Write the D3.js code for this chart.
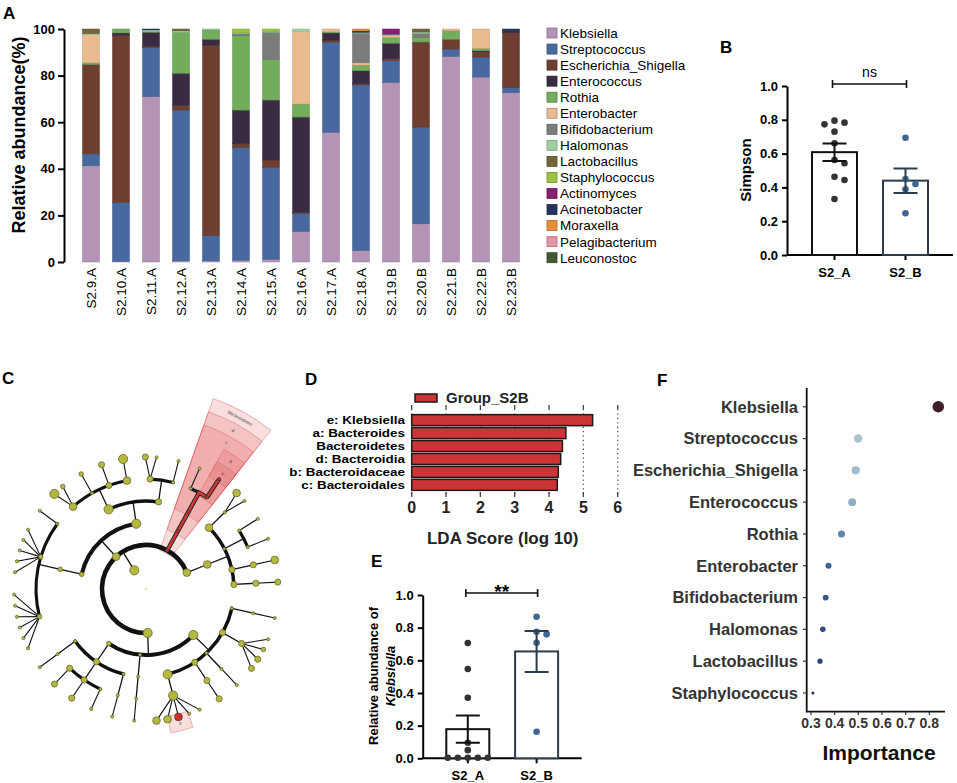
<!DOCTYPE html>
<html>
<head>
<meta charset="utf-8">
<script src="https://cdn.jsdelivr.net/npm/d3@7"></script>
<style>
body { margin: 0; background: #fff; }
text { font-family: "Liberation Sans", Arial, Helvetica, sans-serif; }
</style>
</head>
<body>
<svg id="fig" width="957" height="783"></svg>
<script>
// ---------- data ----------
// A: relative abundance (%) per sample, columns follow `genera`
const samples = ["S2.9.A","S2.10.A","S2.11.A","S2.12.A","S2.13.A","S2.14.A","S2.15.A","S2.16.A",
  "S2.17.A","S2.18.A","S2.19.B","S2.20.B","S2.21.B","S2.22.B","S2.23.B"];
const genera = ["Klebsiella","Streptococcus","Escherichia_Shigella","Enterococcus","Rothia","Enterobacter",
  "Bifidobacterium","Halomonas","Lactobacillus","Staphylococcus","Actinomyces","Acinetobacter",
  "Moraxella","Pelagibacterium","Leuconostoc"];
const genusColors = ["#b393b6","#48699f","#6e3f31","#3a2b44","#72ad5c","#e9bb8f","#7b7b7b","#a0d0a0",
  "#74653a","#9cc244","#87216f","#25345f","#e48f3b","#e295a4","#44592f"];
const abundance = [
  [41.3, 5.1,38.4, 0.0, 0.7,12.1, 0.0,0.4,2.0,0.0,0.0,0.0,0.0,0,0],
  [ 0.3,25.3,71.7, 1.0, 1.7, 0.0, 0.0,0.0,0.0,0.0,0.0,0.0,0.0,0,0],
  [71.0,21.1, 0.5, 6.0, 0.3, 0.0, 0.0,0.7,0.0,0.0,0.0,0.4,0.0,0,0],
  [ 0.5,64.7, 2.1,13.7,17.6, 0.0, 0.0,0.6,0.8,0.0,0.0,0.0,0.0,0,0],
  [ 0.5,10.8,81.8, 2.5, 4.0, 0.0, 0.0,0.4,0.0,0.0,0.0,0.0,0.0,0,0],
  [ 0.8,48.3, 1.7,14.4,31.9, 0.0, 0.8,0.4,0.0,1.7,0.0,0.0,0.0,0,0],
  [ 1.2,39.4, 3.2,25.7,17.5, 0.0,11.6,0.4,0.0,1.0,0.0,0.0,0.0,0,0],
  [13.2, 7.7, 0.4,40.9, 5.6,31.0, 0.0,1.2,0.0,0.0,0.0,0.0,0.0,0,0],
  [55.7,38.7, 0.9, 3.0, 0.5, 1.2, 0.0,0.0,0.0,0.0,0.0,0.0,0.0,0,0],
  [ 4.9,71.1, 0.5, 5.6, 2.4, 1.0,12.7,0.4,0.0,0.0,0.0,0.6,0.8,0,0],
  [77.1, 9.3, 0.9, 6.6, 2.5, 0.8, 0.0,0.5,0.0,0.0,2.3,0.0,0.0,0,0],
  [16.4,41.5,36.5, 0.0, 2.0, 0.0, 1.7,0.6,1.3,0.0,0.0,0.0,0.0,0,0],
  [88.3, 3.1, 4.2, 0.0, 3.7, 0.7, 0.0,0.0,0.0,0.0,0.0,0.0,0.0,0,0],
  [79.4, 8.6, 2.3, 0.4, 1.0, 8.3, 0.0,0.0,0.0,0.0,0.0,0.0,0.0,0,0],
  [72.7, 2.1,23.6, 1.0, 0.0, 0.0, 0.0,0.0,0.0,0.0,0.0,0.6,0.0,0,0]
];
const pctTicks = [0,20,40,60,80,100];

// B: Simpson index
const groups = ["S2_A","S2_B"];
const simpsonA = [0.783,0.795,0.773,0.730,0.661,0.562,0.543,0.444,0.463,0.331];
const simpsonB = [0.694,0.420,0.450,0.389,0.247];
const unitTicks = [0,0.2,0.4,0.6,0.8,1.0];

// C: LEfSe cladogram (name, log-abundance level, children)
function T(name, level, ...kids) { return kids.length ? {name, level, children: kids} : {name, level}; }
const taxTree =
T("root",0,
 T("Bacteria",5,
  T("Proteobacteria",5,
   T("Gammaproteobacteria",5,
    T("o1",1, T("f1",1, T("g1",1))),
    T("o2",3, T("f2",3, T("g2",1), T("g3",2), T("g4",3), T("g5",3))),
    T("o3",1, T("f3",1, T("g6",1))),
    T("o4",3, T("f4",3, T("g7",3))),
    T("Enterobacterales",5, T("Enterobacteriaceae",5,
      T("g8",1), T("g9",1), T("Klebsiella",4), T("Escherichia_Shigella",4), T("Enterobacter",4)))),
   T("c2",1, T("o5",1, T("f5",1, T("g10",1)))),
   T("c3",2,
    T("o6",1, T("f6",1, T("g11",1))),
    T("o7",3, T("f7",1, T("g12",1)), T("f8",3, T("g13",3)), T("f9",3, T("g14",3))),
    T("o8",1, T("f10",1, T("g15",1))))),
  T("Firmicutes",4,
   T("c4",2, T("o9",2,
    T("f11",2, T("g16",1), T("g17",1), T("g18",1), T("g19",1), T("g20",1), T("g21",1)),
    T("f12",2, T("g22",1), T("g23",1), T("g24",1), T("g25",1), T("g26",1)),
    T("f13",1, T("g27",1)))),
   T("Bacilli",5,
    T("o10",5, T("f14",4, T("g28",5), T("g29",2)), T("f15",1, T("g30",2)),
      T("f16",3, T("g31",3)), T("f17",4, T("g32",5))),
    T("o11",3, T("f18",3, T("g33",3), T("g34",1)), T("f19",1, T("g35",1))))),
  T("Bacteroidetes",1, T("Bacteroidia",1, T("Bacteroidales",1,
    T("f20",1, T("g36",1)), T("Bacteroidaceae",1, T("Bacteroides",1))))),
  T("Actinobacteria",4, T("Actinobacteria_c",4,
    T("o12",4, T("f21",1, T("g37",4), T("g38",1))),
    T("o13",1, T("f22",1, T("g39",1)), T("f23",1, T("g40",1))),
    T("o14",3, T("f24",3, T("g41",4))),
    T("o15",3, T("f25",3, T("g42",3)))))
 )
);
const enrichedTaxa = ["Bacteroidetes","Bacteroidia","Bacteroidales","Bacteroidaceae","Bacteroides","Klebsiella"];
const cladeLabels = ["Bacteroidetes","d","c","b","a","e"];

// D: LDA scores
const ldaLabels = ["e: Klebsiella","a: Bacteroides","Bacteroidetes","d: Bacteroidia","b: Bacteroidaceae","c: Bacteroidales"];
const ldaScores = [5.27,4.49,4.39,4.34,4.27,4.24];
const ldaTicks = [0,1,2,3,4,5,6];

// E: relative abundance of Klebsiella
const klebA = [0.003,0.003,0.003,0.003,0.003,0.05,0.095,0.371,0.547,0.706];
const klebB = [0.867,0.759,0.775,0.708,0.163];

// F: random forest importance
const impGenera = ["Klebsiella","Streptococcus","Escherichia_Shigella","Enterococcus","Rothia",
  "Enterobacter","Bifidobacterium","Halomonas","Lactobacillus","Staphylococcus"];
const importance = [0.838,0.499,0.489,0.474,0.429,0.374,0.362,0.350,0.338,0.308];
const impTicks = [0.3,0.4,0.5,0.6,0.7,0.8];

// ---------- drawing ----------
const svg = d3.select("#fig");

function panelLabel(t, x, y) {
  svg.append("text").attr("x", x).attr("y", y).text(t)
    .attr("font-size", 17).attr("font-weight", "bold");
}

// ===== A: stacked bars =====
const gA = svg.append("g");
const xA = d3.scaleBand().domain(samples).range([76, 526]).paddingInner(0.433).paddingOuter(0.2167);
const yA = d3.scaleLinear().domain([0, 100]).range([262, 29]);
const rowsA = samples.map((s, i) => {
  const o = {sample: s};
  genera.forEach((g, j) => o[g] = abundance[i][j]);
  return o;
});
const layers = d3.stack().keys(genera)(rowsA);
gA.selectAll("g.layer").data(layers).join("g")
  .attr("fill", (d, i) => genusColors[i])
  .attr("stroke", (d, i) => d3.color(genusColors[i]).darker(0.5))
  .selectAll("rect").data(d => d).join("rect")
  .attr("x", d => xA(d.data.sample)).attr("width", xA.bandwidth())
  .attr("y", d => yA(d[1])).attr("height", d => yA(d[0]) - yA(d[1]))
  .attr("stroke-width", d => d[1] - d[0] > 0 ? 0.5 : 0);

const axA = gA.append("g").attr("transform", "translate(64,0)")
  .call(d3.axisLeft(yA).tickValues(pctTicks).tickSize(6).tickSizeOuter(0).tickPadding(3));
axA.select(".domain").attr("stroke-width", 2);
axA.selectAll(".tick line").attr("stroke-width", 2);
axA.selectAll(".tick text").attr("font-size", 13).attr("font-weight", "bold").attr("font-family", null);

gA.selectAll("text.xl").data(samples).join("text").attr("class", "xl")
  .attr("transform", d => `translate(${xA(d) + xA.bandwidth() / 2},268) rotate(-90)`)
  .attr("text-anchor", "end").attr("dy", "0.35em").attr("font-size", 13.5).text(d => d);

gA.append("text").attr("transform", "translate(25,135) rotate(-90)").attr("text-anchor", "middle")
  .attr("font-size", 18).attr("font-weight", "bold").text("Relative abundance(%)");

const legA = gA.selectAll("g.leg").data(genera).join("g")
  .attr("transform", (d, i) => `translate(547,${28 + i * 16.05})`);
legA.append("rect").attr("width", 10).attr("height", 10)
  .attr("fill", (d, i) => genusColors[i]).attr("stroke", (d, i) => d3.color(genusColors[i]).darker(0.8))
  .attr("stroke-width", 0.8);
legA.append("text").attr("x", 13).attr("y", 5).attr("dy", "0.36em").attr("font-size", 13.5).text(d => d);
panelLabel("A", 3, 19);

// ===== helpers for B / E =====
function dodge(vals, y, r, step) {
  const placed = [], out = new Array(vals.length);
  vals.map((v, i) => i).sort((a, b) => vals[b] - vals[a]).forEach(i => {
    const py = y(vals[i]);
    for (let k = 0; k < 40; k++) {
      const off = k === 0 ? 0 : (k % 2 ? 1 : -1) * Math.ceil(k / 2) * step;
      if (placed.every(p => Math.hypot(p[0] - off, p[1] - py) >= 2 * r + 0.4)) {
        out[i] = off; placed.push([off, py]); break;
      }
    }
  });
  return out;
}

function dotBar(opt) {
  const g = svg.append("g");
  const x = d3.scaleBand().domain(groups).range([opt.x0, opt.x1]).paddingInner(opt.pi).paddingOuter(opt.po);
  const y = d3.scaleLinear().domain([0, 1]).range([opt.y0, opt.y1]);
  const strokes = ["#111", "#2c3c4a"], dots = ["#333333", "#3f6690"];
  const ax = g.append("g").attr("transform", `translate(${opt.x0},0)`)
    .call(d3.axisLeft(y).tickValues(unitTicks).tickFormat(d3.format(".1f")).tickSize(5).tickSizeOuter(0).tickPadding(4));
  ax.select(".domain").attr("stroke-width", 2);
  ax.selectAll(".tick line").attr("stroke-width", 2);
  ax.selectAll(".tick text").attr("font-size", 13).attr("font-weight", "bold").attr("font-family", null);
  g.append("line").attr("x1", opt.x0).attr("x2", opt.x1).attr("y1", opt.y0).attr("y2", opt.y0)
    .attr("stroke", "#000").attr("stroke-width", 2);

  [opt.a, opt.b].forEach((vals, gi) => {
    const name = groups[gi], cxg = x(name) + x.bandwidth() / 2;
    const m = d3.mean(vals), se = d3.deviation(vals) / Math.sqrt(vals.length);
    g.append("line").attr("x1", cxg).attr("x2", cxg).attr("y1", opt.y0).attr("y2", opt.y0 + 5)
      .attr("stroke", "#000").attr("stroke-width", 2);
    g.append("rect").attr("x", x(name)).attr("width", x.bandwidth())
      .attr("y", y(m)).attr("height", y(0) - y(m))
      .attr("fill", "#fff").attr("stroke", strokes[gi]).attr("stroke-width", 2);
    const offs = dodge(vals, y, 3.3, 10);
    g.selectAll(null).data(vals).join("circle")
      .attr("cx", (d, i) => cxg + offs[i]).attr("cy", d => y(d)).attr("r", 3.3).attr("fill", dots[gi]);
    g.append("path").attr("fill", "none").attr("stroke", strokes[gi]).attr("stroke-width", 2)
      .attr("d", `M${cxg},${y(m - se)}V${y(m + se)}M${cxg - 12},${y(m + se)}H${cxg + 12}M${cxg - 12},${y(m - se)}H${cxg + 12}`);
    g.append("text").attr("x", cxg).attr("y", opt.y0 + 22).attr("text-anchor", "middle")
      .attr("font-size", 13).attr("font-weight", "bold").text(name);
  });
  const bx0 = x(groups[0]) + x.bandwidth() / 2 - 2, bx1 = x(groups[1]) + x.bandwidth() / 2 + 1;
  g.append("path").attr("fill", "none").attr("stroke", "#111").attr("stroke-width", 1.6)
    .attr("d", `M${bx0},${opt.by - 4}V${opt.by + 4}M${bx0},${opt.by}H${bx1}M${bx1},${opt.by - 4}V${opt.by + 4}`);
  g.append("text").attr("x", (bx0 + bx1) / 2).attr("y", opt.sy).attr("text-anchor", "middle")
    .attr("font-size", opt.sf).attr("font-weight", opt.sw).text(opt.sig);
  return g;
}

// ===== B =====
const gB = dotBar({x0: 787, x1: 953, y0: 255, y1: 86, pi: 0.366, po: 0.352,
  a: simpsonA, b: simpsonB, by: 84, sy: 77, sig: "ns", sf: 14, sw: "normal"});
gB.append("text").attr("transform", "translate(751,170) rotate(-90)").attr("text-anchor", "middle")
  .attr("font-size", 15).attr("font-weight", "bold").text("Simpson");
panelLabel("B", 720, 53);

// ===== E =====
const gE = dotBar({x0: 422.7, x1: 581.7, y0: 758.3, y1: 595, pi: 0.375, po: 0.343,
  a: klebA, b: klebB, by: 593, sy: 598, sig: "**", sf: 19, sw: "bold"});
gE.append("text").attr("transform", "translate(378,676) rotate(-90)").attr("text-anchor", "middle")
  .attr("font-size", 13).attr("font-weight", "bold").text("Relative abundance of");
gE.append("text").attr("transform", "translate(395,676) rotate(-90)").attr("text-anchor", "middle")
  .attr("font-size", 13).attr("font-weight", "bold").attr("font-style", "italic").text("Klebsiella");
panelLabel("E", 371, 567);

// ===== C: cladogram =====
const gC = svg.append("g");
const cx = 146, cy = 589, ring = 22;
const tree = d3.hierarchy(taxTree);
d3.cluster().size([354 * Math.PI / 180, 1]).separation((a, b) => a.parent === b.parent ? 1 : 2)(tree);
const a0 = 7.85 * Math.PI / 180;
const ang = d => d.x + a0;
const rad = d => d.depth * ring;
const pt = (r, a) => [cx + r * Math.cos(a), cy + r * Math.sin(a)];
const nodeR = d3.scaleLinear().domain([0, 5]).range([0.8, 4.6]);
const isRed = d => enrichedTaxa.includes(d.data.name);
const nodes = tree.descendants();

// highlighted clade sectors
const sector = d3.arc();
enrichedTaxa.forEach((name, i) => {
  const nd = nodes.find(d => d.data.name === name);
  const la = nd.leaves().map(ang), pad = 4.5 * Math.PI / 180;
  const s = d3.min(la) - pad, e = d3.max(la) + pad;
  const outer = 146 + (6 - nd.depth) * 14;
  gC.append("path").attr("transform", `translate(${cx},${cy})`)
    .attr("d", sector({innerRadius: rad(nd) - 3, outerRadius: outer, startAngle: s + Math.PI / 2, endAngle: e + Math.PI / 2}))
    .attr("fill", "rgba(226,92,92,0.2)").attr("stroke", "rgba(214,80,80,0.5)").attr("stroke-width", 0.8);
  const mid = (s + e) / 2, p = pt(outer - 7, mid);
  gC.append("text").attr("transform", `translate(${p[0]},${p[1]}) rotate(${mid * 180 / Math.PI + 90})`)
    .attr("text-anchor", "middle").attr("dy", "0.35em").attr("font-size", 4.5).attr("fill", "#444")
    .text(cladeLabels[i]);
});

function linkPath(p, k) {
  const a = pt(rad(p), ang(p)), b = pt(rad(k), ang(k));
  if (!k.children) return `M${a}L${b}`;
  const path = d3.path(), e = pt(rad(k), ang(p));
  path.moveTo(a[0], a[1]); path.lineTo(e[0], e[1]);
  path.arc(cx, cy, rad(k), ang(p), ang(k), ang(k) < ang(p));
  return path.toString();
}

const arcWidth = {2: 4.6, 3: 4.0, 4: 3.5, 5: 3.1};
nodes.filter(d => d.depth >= 1 && d.children).forEach(p => {
  const kids = p.children;
  if (!kids[0].children) {
    kids.forEach(k => gC.append("path").attr("d", linkPath(p, k)).attr("stroke", "#111").attr("stroke-width", 1.1).attr("fill", "none"));
    return;
  }
  const rc = rad(p) + ring, e = pt(rc, ang(p));
  gC.append("line").attr("x1", pt(rad(p), ang(p))[0]).attr("y1", pt(rad(p), ang(p))[1])
    .attr("x2", e[0]).attr("y2", e[1]).attr("stroke", "#111").attr("stroke-width", 1.3);
  const lo = d3.min(kids, ang), hi = d3.max(kids, ang);
  if (hi - lo > 0.001) {
    const path = d3.path();
    path.arc(cx, cy, rc, lo, hi);
    gC.append("path").attr("d", path.toString()).attr("fill", "none").attr("stroke", "#111")
      .attr("stroke-width", arcWidth[p.depth + 1]).attr("stroke-linecap", "round");
  }
});
// enriched lineage branches
nodes.filter(d => d.parent && isRed(d) && isRed(d.parent)).forEach(k => {
  const d = linkPath(k.parent, k);
  gC.append("path").attr("d", d).attr("fill", "none").attr("stroke", "#222").attr("stroke-width", 4.4);
  gC.append("path").attr("d", d).attr("fill", "none").attr("stroke", "#d73a34").attr("stroke-width", 2.4);
});
gC.selectAll("circle").data(nodes).join("circle")
  .attr("cx", d => d.depth ? pt(rad(d), ang(d))[0] : cx)
  .attr("cy", d => d.depth ? pt(rad(d), ang(d))[1] : cy)
  .attr("r", d => nodeR(d.data.level))
  .attr("fill", d => isRed(d) ? "#d62f2a" : "#b4b83c")
  .attr("stroke", d => d.depth ? (isRed(d) ? "#333" : "#5b5b2c") : "none")
  .attr("stroke-width", 0.7);
panelLabel("C", 2, 384);

// ===== D: LDA bars =====
const gD = svg.append("g");
const xD = d3.scaleLinear().domain([0, 6]).range([411.7, 617.7]);
const yD = d3.scaleBand().domain(ldaLabels).range([414, 491]).paddingInner(0.15).paddingOuter(0.05);
ldaTicks.forEach(t => {
  gD.append("line").attr("x1", xD(t)).attr("x2", xD(t)).attr("y1", 409).attr("y2", 496)
    .attr("stroke", "#555").attr("stroke-width", 1.3).attr("stroke-dasharray", "1.3,3.1");
  gD.append("line").attr("x1", xD(t)).attr("x2", xD(t)).attr("y1", 405).attr("y2", 409)
    .attr("stroke", "#444").attr("stroke-width", 1.3);
  gD.append("line").attr("x1", xD(t)).attr("x2", xD(t)).attr("y1", 492).attr("y2", 497)
    .attr("stroke", "#444").attr("stroke-width", 1.3);
});
gD.selectAll("rect.lda").data(ldaLabels).join("rect").attr("class", "lda")
  .attr("x", xD(0)).attr("y", d => yD(d)).attr("height", yD.bandwidth())
  .attr("width", (d, i) => xD(ldaScores[i]) - xD(0))
  .attr("fill", "#cb3535").attr("stroke", "#1a1a1a").attr("stroke-width", 1.5);
// labels are wide and tightly packed in the original, so stretch a smaller font
gD.selectAll("text.ll").data(ldaLabels).join("text").attr("class", "ll")
  .attr("transform", d => `translate(405,${yD(d) + yD.bandwidth() / 2}) scale(1.28,1)`)
  .attr("dy", "0.36em").attr("text-anchor", "end").attr("font-size", 10.5)
  .attr("font-weight", "bold").text(d => d);
gD.selectAll("text.lt").data(ldaTicks).join("text").attr("class", "lt")
  .attr("x", d => xD(d)).attr("y", 513).attr("text-anchor", "middle")
  .attr("font-size", 16).attr("font-weight", "bold").attr("fill", "#222").text(d => d);
gD.append("text").attr("x", 502.7).attr("y", 544).attr("text-anchor", "middle")
  .attr("font-size", 17).attr("font-weight", "bold").attr("fill", "#222").text("LDA Score (log 10)");
gD.append("rect").attr("x", 415).attr("y", 394).attr("width", 22).attr("height", 8)
  .attr("fill", "#cb3535").attr("stroke", "#1a1a1a").attr("stroke-width", 1.5);
gD.append("text").attr("x", 446).attr("y", 403).attr("font-size", 15).attr("font-weight", "bold")
  .attr("fill", "#222").text("Group_S2B");
panelLabel("D", 305, 385);

// ===== F: importance dot plot =====
const gF = svg.append("g");
const xF = d3.scaleLinear().domain([0.3, 0.8]).range([811, 929.3]);
const yF = d3.scalePoint().domain(impGenera).range([388, 711.7]).padding(0.59);
const colF = d3.scaleLinear().domain([0.3, 0.36, 0.43, 0.5, 0.84])
  .range(["#1b2a5a", "#35558d", "#6587aa", "#aec3d0", "#3e1d25"]);
const sizeF = d3.scaleLinear().domain([0.3, 0.34, 0.5, 0.84]).range([1.2, 2.7, 4.2, 5.8]);
gF.append("path").attr("fill", "none").attr("stroke", "#111").attr("stroke-width", 1.8)
  .attr("d", "M806.7,388V711.7H945");
impGenera.forEach((g, i) => {
  gF.append("line").attr("x1", 803).attr("x2", 806.7).attr("y1", yF(g)).attr("y2", yF(g))
    .attr("stroke", "#333").attr("stroke-width", 1.2);
  gF.append("text").attr("x", 798).attr("y", yF(g)).attr("dy", "0.36em").attr("text-anchor", "end")
    .attr("font-size", 16.5).attr("font-weight", "bold").attr("fill", "#333").text(g);
});
impTicks.forEach(t => {
  gF.append("line").attr("x1", xF(t)).attr("x2", xF(t)).attr("y1", 711.7).attr("y2", 715)
    .attr("stroke", "#333").attr("stroke-width", 1.2);
  gF.append("text").attr("x", xF(t)).attr("y", 728).attr("text-anchor", "middle")
    .attr("font-size", 14).attr("font-weight", "bold").attr("fill", "#333").text(t.toFixed(1));
});
gF.selectAll("circle").data(importance).join("circle")
  .attr("cx", d => xF(d)).attr("cy", (d, i) => yF(impGenera[i]))
  .attr("r", d => sizeF(d)).attr("fill", d => colF(d));
gF.append("text").attr("x", 879).attr("y", 760).attr("text-anchor", "middle")
  .attr("font-size", 21).attr("font-weight", "bold").attr("fill", "#111").text("Importance");
panelLabel("F", 657, 386);
</script>
</body>
</html>
